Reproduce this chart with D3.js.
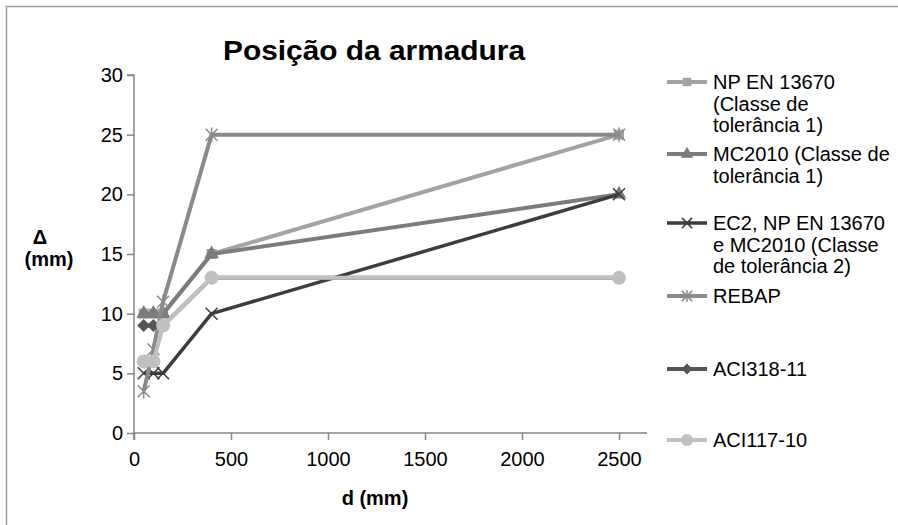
<!DOCTYPE html>
<html>
<head>
<meta charset="utf-8">
<script src="https://cdn.jsdelivr.net/npm/d3@7"></script>
<style>
  html, body { margin: 0; padding: 0; background: #fff; }
  svg { display: block; }
  text { font-family: "Liberation Sans", Arial, sans-serif; fill: #000; }
</style>
</head>
<body>
<svg id="chart" width="898" height="525"></svg>
<script>
// ---------- data ----------
const title = "Posição da armadura";
const xTicks = [0, 500, 1000, 1500, 2000, 2500];
const yTicks = [0, 5, 10, 15, 20, 25, 30];

const dNPEN   = [50, 100, 150, 400, 2500];
const vNPEN   = [10, 10, 10, 15, 25];
const dMC     = [50, 100, 150, 400, 2500];
const vMC     = [10, 10, 10, 15, 20];
const dEC2    = [50, 100, 150, 400, 2500];
const vEC2    = [5, 5, 5, 10, 20];
const dREBAP  = [50, 100, 150, 400, 2500];
const vREBAP  = [3.5, 7, 11, 25, 25];
const dACI318 = [50, 100, 150, 400, 2500];
const vACI318 = [9, 9, 9, 13, 13];
const dACI117 = [50, 100, 150, 400, 2500];
const vACI117 = [6, 6, 9, 13, 13];

const seriesNames = [
  ["NP EN 13670", "(Classe de", "tolerância 1)"],
  ["MC2010 (Classe de", "tolerância 1)"],
  ["EC2, NP EN 13670", "e MC2010  (Classe", "de tolerância 2)"],
  ["REBAP"],
  ["ACI318-11"],
  ["ACI117-10"]
];

// ---------- styles ----------
const series = [
  {d: dNPEN,   v: vNPEN,   color: "#a3a3a3", marker: "square",   width: 4},
  {d: dMC,     v: vMC,     color: "#7c7c7c", marker: "triangle", width: 4},
  {d: dEC2,    v: vEC2,    color: "#3d3d3d", marker: "x",        width: 3.5},
  {d: dREBAP,  v: vREBAP,  color: "#8a8a8a", marker: "star",     width: 4},
  {d: dACI318, v: vACI318, color: "#555555", marker: "diamond",  width: 4},
  {d: dACI117, v: vACI117, color: "#c0c0c0", marker: "circle",   width: 4}
];
const legendY = [82, 154, 223, 296, 369, 440];

const svg = d3.select("#chart");

// outer frame
svg.append("rect").attr("x", 6.5).attr("y", 6.5).attr("width", 905).attr("height", 540)
  .attr("fill", "none").attr("stroke", "#a0a0a0").attr("stroke-width", 1.5);

const x = d3.scaleLinear().domain([0, 2500]).range([134, 619]);
const y = d3.scaleLinear().domain([0, 30]).range([433, 75]);

const axisColor = "#868686";
const fmt = d3.format("d");

// y axis
const yAxis = svg.append("g").attr("transform", "translate(134,0)")
  .call(d3.axisLeft(y).tickValues(yTicks).tickFormat(fmt).tickSize(7).tickPadding(4));
yAxis.select(".domain").attr("d", `M-7,${y(30)}H0V${y(0)}`);
yAxis.selectAll("path,line").attr("stroke", axisColor).attr("stroke-width", 1.5);
yAxis.selectAll("text").style("font-size", "20px").attr("fill", "#000")
  .style("font-family", "Liberation Sans, Arial, sans-serif");

// x axis
const xAxis = svg.append("g").attr("transform", "translate(0,433)")
  .call(d3.axisBottom(x).tickValues(xTicks).tickFormat(fmt).tickSize(7).tickPadding(12));
xAxis.select(".domain").attr("d", `M${x(0)},7V0H${x(2500) + 28}`);
xAxis.selectAll("path,line").attr("stroke", axisColor).attr("stroke-width", 1.5);
xAxis.selectAll("text").style("font-size", "20px").attr("fill", "#000")
  .style("font-family", "Liberation Sans, Arial, sans-serif");

// titles
svg.append("text").attr("x", 374).attr("y", 60).attr("text-anchor", "middle")
  .attr("textLength", 302).attr("lengthAdjust", "spacingAndGlyphs")
  .style("font-size", "28px").style("font-weight", "bold").text(title);
svg.append("text").attr("x", 375).attr("y", 505).attr("text-anchor", "middle")
  .style("font-size", "20px").style("font-weight", "bold").text("d (mm)");
svg.append("text").attr("x", 40).attr("y", 244).attr("text-anchor", "middle")
  .style("font-size", "20px").style("font-weight", "bold").text("Δ");
svg.append("text").attr("x", 49).attr("y", 266).attr("text-anchor", "middle")
  .style("font-size", "20px").style("font-weight", "bold").text("(mm)");

// marker drawing
function drawMarker(g, type, cx, cy, color, s) {
  s = s || 1;
  if (type === "square") {
    g.append("rect").attr("x", cx - 5 * s).attr("y", cy - 5 * s)
      .attr("width", 10 * s).attr("height", 10 * s).attr("fill", color);
  } else if (type === "triangle") {
    g.append("path").attr("transform", `translate(${cx},${cy})`)
      .attr("d", d3.symbol(d3.symbolTriangle, 95 * s * s)()).attr("fill", color);
  } else if (type === "diamond") {
    const r = 6.5 * s;
    g.append("path").attr("d", `M${cx},${cy - r}L${cx + r},${cy}L${cx},${cy + r}L${cx - r},${cy}Z`)
      .attr("fill", color);
  } else if (type === "circle") {
    g.append("circle").attr("cx", cx).attr("cy", cy).attr("r", 7 * s).attr("fill", color);
  } else if (type === "x") {
    const r = 6 * s;
    g.append("path").attr("d", `M${cx - r},${cy - r}L${cx + r},${cy + r}M${cx - r},${cy + r}L${cx + r},${cy - r}`)
      .attr("stroke", color).attr("stroke-width", 1.5).attr("fill", "none");
  } else if (type === "star") {
    const r = 6 * s;
    g.append("path").attr("d", `M${cx - r},${cy - r}L${cx + r},${cy + r}M${cx - r},${cy + r}L${cx + r},${cy - r}M${cx},${cy - r * 1.2}V${cy + r * 1.2}`)
      .attr("stroke", color).attr("stroke-width", 1.5).attr("fill", "none");
  }
}

// series lines and markers
const line = d3.line().x(p => x(p[0])).y(p => y(p[1]));
series.forEach(s => {
  const g = svg.append("g");
  const pts = s.d.map((d, i) => [d, s.v[i]]);
  g.append("path").datum(pts).attr("d", line).attr("fill", "none")
    .attr("stroke", s.color).attr("stroke-width", s.width).attr("stroke-linejoin", "round");
  pts.forEach(p => drawMarker(g, s.marker, x(p[0]), y(p[1]), s.color, 1));
});

// legend
series.forEach((s, i) => {
  const g = svg.append("g");
  const ly = legendY[i];
  g.append("line").attr("x1", 667).attr("x2", 707).attr("y1", ly).attr("y2", ly)
    .attr("stroke", s.color).attr("stroke-width", s.width);
  drawMarker(g, s.marker, 687, ly, s.color, 0.85);
  seriesNames[i].forEach((t, j) => {
    g.append("text").attr("x", 713).attr("y", ly + j * 21.5).attr("dy", "0.35em")
      .style("font-size", "20px").text(t);
  });
});
</script>
</body>
</html>
